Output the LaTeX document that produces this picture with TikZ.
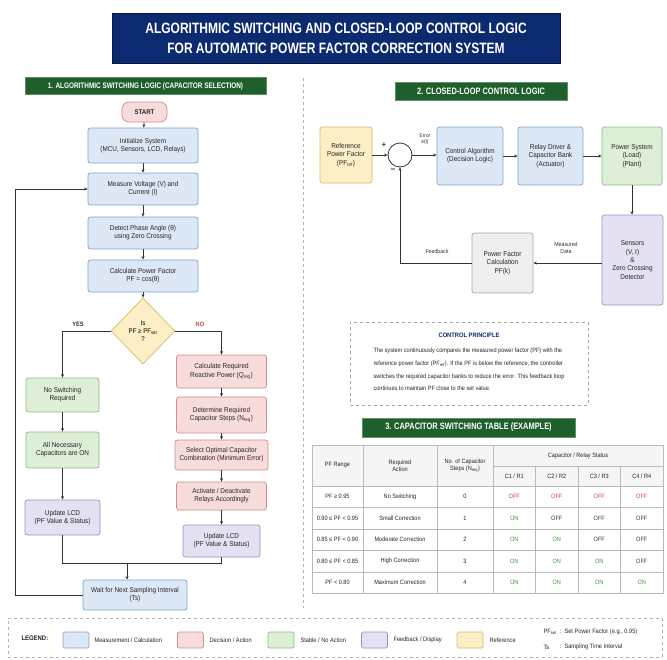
\documentclass[tikz,border=0pt]{standalone}
\usepackage{fontspec}
\setmainfont{Liberation Sans}[FakeStretch=0.9]
\newfontfamily\condfont{Liberation Sans}[FakeStretch=0.8]
\usetikzlibrary{shapes.geometric,arrows.meta}
\newcommand\fsz[2]{\fontsize{#1}{#2}\selectfont}
\definecolor{bfill}{HTML}{DCE8F6}\definecolor{bline}{HTML}{7FA3CF}
\definecolor{pfill}{HTML}{F8DCDC}\definecolor{pline}{HTML}{D38C8C}
\definecolor{gfill}{HTML}{DDEFD6}\definecolor{gline}{HTML}{8DBB85}
\definecolor{vfill}{HTML}{E5E0F2}\definecolor{vline}{HTML}{9C8FC6}
\definecolor{yfill}{HTML}{FCEFC6}\definecolor{yline}{HTML}{D9B96A}
\definecolor{kfill}{HTML}{EFEFEF}\definecolor{kline}{HTML}{A8A8A8}
\definecolor{titleblue}{HTML}{0B2A6F}
\definecolor{hdrgreen}{HTML}{1F5F2B}
\definecolor{linec}{HTML}{333333}
\definecolor{ongreen}{HTML}{3A9A3A}
\definecolor{offred}{HTML}{D04040}
\definecolor{offgray}{HTML}{333333}
\definecolor{tline}{HTML}{BBBBBB}
\newcommand\onx{\textcolor{ongreen}{ON}}
\newcommand\offr{\textcolor{offred}{OFF}}
\newcommand\offk{\textcolor{offgray}{OFF}}
\begin{document}
\begin{tikzpicture}[x=1pt,y=-1pt,
  box/.style={rounded corners=2.5pt, line width=0.7pt, align=center, inner sep=1pt, font=\fsz{7.1}{8.3}, text=black!85},
  bbox/.style={box, draw=bline, fill=bfill},
  pbox/.style={box, draw=pline, fill=pfill},
  gbox/.style={box, draw=gline, fill=gfill},
  vbox/.style={box, draw=vline, fill=vfill},
  ybox/.style={box, draw=yline, fill=yfill},
  kbox/.style={box, draw=kline, fill=kfill},
  hdr/.style={fill=hdrgreen, draw=hdrgreen!70!white, line width=0.6pt, text=white, inner sep=1pt, font=\condfont\bfseries\fsz{9.3}{11}},
  arr/.style={draw=linec, line width=0.8pt, -{Stealth[length=3.5pt,width=3pt]}},
  ln/.style={draw=linec, line width=0.8pt},
  lbl/.style={font=\fsz{5.8}{7}, align=center, text=black!80},
  cell/.style={font=\fsz{6.2}{7.4}, align=center, text=black!85},
  legtxt/.style={font=\fsz{6.3}{7.5}, anchor=west, text=black!85},
  sw/.style={rounded corners=1.5pt, line width=0.7pt, minimum width=26pt, minimum height=16pt, inner sep=0pt}
]
\useasboundingbox (0,0) rectangle (667,659);
\fill[white] (0,0) rectangle (667,659);

% Title
\node[fill=titleblue, draw=titleblue!60!black, minimum width=448pt, minimum height=50pt, text=white, align=center, font=\condfont\bfseries\fsz{15}{20}] (title) at (336,38) {ALGORITHMIC SWITCHING AND CLOSED-LOOP CONTROL LOGIC\\FOR AUTOMATIC POWER FACTOR CORRECTION SYSTEM};

% divider
\coordinate (dvt) at (303,78);
\coordinate (dvb) at (303,608);
\draw[gray!60, dashed, line width=0.6pt] (dvt) -- (dvb);

% Section headers
\node[hdr, minimum width=241pt, minimum height=17pt, font=\condfont\bfseries\fsz{8}{9}] (h1) at (145.5,86) {1. ALGORITHMIC SWITCHING LOGIC (CAPACITOR SELECTION)};
\node[hdr, minimum width=172pt, minimum height=18pt] (h2) at (481,91) {2. CLOSED-LOOP CONTROL LOGIC};
\node[hdr, minimum width=213pt, minimum height=19pt] (h3) at (468.5,427.5) {3. CAPACITOR SWITCHING TABLE (EXAMPLE)};

% ---------- Left flowchart ----------
\node[pbox, rounded corners=7pt, minimum width=45pt, minimum height=20pt, font=\bfseries\fsz{6.8}{8}] (start) at (144.5,112) {START};
\node[bbox, minimum width=110pt, minimum height=35pt] (init) at (143,145.5) {Initialize System\\(MCU, Sensors, LCD, Relays)};
\node[bbox, minimum width=110pt, minimum height=32pt] (meas) at (143,189) {Measure Voltage (V) and\\Current (I)};
\node[bbox, minimum width=110pt, minimum height=32pt] (detect) at (143,233) {Detect Phase Angle (θ)\\using Zero Crossing};
\node[bbox, minimum width=110pt, minimum height=32pt] (calc) at (143,276) {Calculate Power Factor\\PF = cos(θ)};
\node[diamond, draw=yline, fill=yfill, line width=0.7pt, minimum width=64pt, minimum height=66pt, inner sep=0pt, align=center, font=\fsz{6.8}{8}] (dia) at (143,331) {Is\\PF ≥ PF\textsubscript{set}\\?};

\node[gbox, minimum width=73pt, minimum height=34pt] (nosw) at (62.5,395) {No Switching\\Required};
\node[gbox, minimum width=73pt, minimum height=36pt] (allon) at (62.5,450) {All Necessary\\Capacitors are ON};
\node[vbox, minimum width=75pt, minimum height=35pt] (lcdl) at (62.5,517.5) {Update LCD\\(PF Value \& Status)};

\node[pbox, minimum width=90pt, minimum height=33pt] (qreq) at (221.5,371.5) {Calculate Required\\Reactive Power (Q\textsubscript{req})};
\node[pbox, minimum width=90pt, minimum height=36pt] (nreq) at (221.5,415) {Determine Required\\Capacitor Steps (N\textsubscript{req})};
\node[pbox, minimum width=93pt, minimum height=30pt] (sel) at (221.5,455) {Select Optimal Capacitor\\Combination (Minimum Error)};
\node[pbox, minimum width=90pt, minimum height=28pt] (act) at (221.5,496) {Activate / Deactivate\\Relays Accordingly};
\node[vbox, minimum width=77pt, minimum height=32pt] (lcdr) at (221.5,541) {Update LCD\\(PF Value \& Status)};
\node[bbox, minimum width=104pt, minimum height=30pt] (wait) at (135,595) {Wait for Next Sampling Interval\\(Ts)};

\draw[arr] (start) -- (init);
\draw[arr] (init) -- (meas);
\draw[arr] (meas) -- (detect);
\draw[arr] (detect) -- (calc);
\draw[arr] (calc) -- (dia);
\draw[arr] (dia.west) -| (nosw.north);
\draw[arr] (dia.east) -| (qreq.north);
\node[font=\bfseries\fsz{6.3}{7}, text=black!80] (yes) at (78,324) {YES};
\node[font=\bfseries\fsz{6.3}{7}, text=offred] (no) at (200,324) {NO};
\draw[arr] (nosw) -- (allon);
\draw[arr] (allon) -- (lcdl);
\draw[arr] (qreq) -- (nreq);
\draw[arr] (nreq) -- (sel);
\draw[arr] (sel) -- (act);
\draw[arr] (act) -- (lcdr);
\coordinate (mj) at (127,563);
\draw[ln] (lcdl.south) -- (lcdl.south |- mj) -- (lcdr.south |- mj) -- (lcdr.south);
\draw[arr] (mj) -- (mj |- wait.north);
\coordinate (lp) at (15,0);
\draw[arr] (wait.west) -- (wait.west -| lp) |- (meas.west);

% ---------- Right control loop ----------
\node[ybox, minimum width=52pt, minimum height=56pt] (ref) at (346,155) {Reference\\Power Factor\\(PF\textsubscript{ref})};
\node[circle, draw=linec, fill=white, line width=0.8pt, minimum size=24pt, inner sep=0pt] (sum) at (400,155) {};
\node[bbox, minimum width=66pt, minimum height=58pt] (ctrl) at (470,156) {Control Algorithm\\(Decision Logic)};
\node[bbox, minimum width=65pt, minimum height=58pt] (relay) at (550.5,156) {Relay Driver \&\\Capacitor Bank\\(Actuator)};
\node[gbox, minimum width=60pt, minimum height=58pt] (psys) at (632,156) {Power System\\(Load)\\(Plant)};
\node[vbox, minimum width=61pt, minimum height=90pt] (sens) at (632.5,260) {Sensors\\(V, I)\\\&\\Zero Crossing\\Detector};
\node[kbox, minimum width=61pt, minimum height=60pt] (pfc) at (502.5,263) {Power Factor\\Calculation\\PF(k)};

\draw[arr] (ref.east |- sum) -- (sum.west);
\draw[arr] (sum.east) -- (ctrl.west |- sum);
\draw[arr] (ctrl) -- (relay);
\draw[arr] (relay) -- (psys);
\draw[arr] (psys.south) -- (psys.south |- sens.north);
\draw[arr] (sens.west |- pfc.east) -- (pfc.east);
\draw[arr] (pfc.west) -| (sum.south);
\node[font=\bfseries\fsz{8}{8}, text=linec] (plus) at (384,145) {+};
\node[font=\bfseries\fsz{9}{9}, text=linec] (minus) at (393,171) {−};
\node[lbl, font=\fsz{5.3}{6.2}] (err) at (425,139) {Error\\e(t)};
\node[lbl] (mdata) at (566,248) {Measured\\Data};
\node[lbl] (fb) at (437,251) {Feedback};

% Control principle
\node[draw=gray!70, dashed, line width=0.6pt, minimum width=238pt, minimum height=83pt] (cp) at (469,363.5) {};
\node[font=\bfseries\fsz{6.4}{7.5}, text=titleblue] (cpt) at (469,335) {CONTROL PRINCIPLE};
\node[font=\fsz{6.2}{12.6}, align=left, text=black!85] (cpb) at (469,369.5) {The system continuously compares the measured power factor (PF) with the\\reference power factor (PF\textsubscript{ref}). If the PF is below the reference, the controller\\switches the required capacitor banks to reduce the error. This feedback loop\\continues to maintain PF close to the set value.};

% ---------- Table ----------
\fill[black!4] (312,445) rectangle (663,486);
\draw[tline, line width=0.6pt] (312,445) rectangle (663,593.5);
\draw[tline, line width=0.6pt] (493,466) -- (663,466);
\foreach \yy in {486,507.5,529,550.5,572} \draw[tline, line width=0.6pt] (312,\yy) -- (663,\yy);
\foreach \xx in {363,437,493} \draw[tline, line width=0.6pt] (\xx,445) -- (\xx,593.5);
\foreach \xx in {535.5,578,620.5} \draw[tline, line width=0.6pt] (\xx,466) -- (\xx,593.5);
\node[cell] (th1) at (337.5,465.5) {PF Range};
\node[cell] (th2) at (400,465.5) {Required\\Action};
\node[cell] (th3) at (465,465.5) {No. of Capacitor\\Steps (N\textsubscript{req})};
\node[cell] (th4) at (578,455.5) {Capacitor / Relay Status};
\node[cell] (th5) at (514.25,476) {C1 / R1};
\node[cell] (th6) at (556.75,476) {C2 / R2};
\node[cell] (th7) at (599.25,476) {C3 / R3};
\node[cell] (th8) at (641.75,476) {C4 / R4};
\foreach \ra/\rb/\rc/\rd/\re/\rf/\rg [count=\i] in {
  PF ≥ 0.95/No Switching/0/\offr/\offr/\offr/\offr,
  0.90 ≤ PF < 0.95/Small Correction/1/\onx/\offk/\offk/\offk,
  0.85 ≤ PF < 0.90/Moderate Correction/2/\onx/\onx/\offk/\offk,
  0.80 ≤ PF < 0.85/High Correction/3/\onx/\onx/\onx/\offk,
  PF < 0.80/Maximum Correction/4/\onx/\onx/\onx/\onx}{
  \pgfmathsetmacro\yy{486+(\i-0.5)*21.5}
  \node[cell] (r\i a) at (337.5,\yy) {\ra};
  \node[cell] (r\i b) at (400,\yy) {\rb};
  \node[cell] (r\i c) at (465,\yy) {\rc};
  \node[cell] (r\i d) at (514.25,\yy) {\rd};
  \node[cell] (r\i e) at (556.75,\yy) {\re};
  \node[cell] (r\i f) at (599.25,\yy) {\rf};
  \node[cell] (r\i g) at (641.75,\yy) {\rg};
}

% ---------- Legend ----------
\node[draw=gray!60, dashed, line width=0.6pt, minimum width=654pt, minimum height=39pt] (leg) at (335,637.5) {};
\node[font=\bfseries\fsz{6.6}{8}, text=black!85, anchor=west] (legt) at (18,638) {LEGEND:};
\node[sw, draw=bline, fill=bfill] (sw1) at (76,640) {};
\node[legtxt] (lt1) at (91,640) {Measurement / Calculation};
\node[sw, draw=pline, fill=pfill] (sw2) at (190.5,640) {};
\node[legtxt] (lt2) at (206,640) {Decision / Action};
\node[sw, draw=gline, fill=gfill] (sw3) at (281,640) {};
\node[legtxt] (lt3) at (297,640) {Stable / No Action};
\node[sw, draw=vline, fill=vfill] (sw4) at (374.5,640) {};
\node[legtxt] (lt4) at (390,640) {Feedback / Display};
\node[sw, draw=yline, fill=yfill] (sw5) at (470,640) {};
\node[legtxt] (lt5) at (486,640) {Reference};
\node[legtxt] (lk1) at (540,632) {PF\textsubscript{set}};
\node[legtxt] (lc1) at (556,632) {:};
\node[legtxt] (lk2) at (561,632) {Set Power Factor (e.g., 0.95)};
\node[legtxt] (lk3) at (540,647) {Ts};
\node[legtxt] (lc2) at (556,647) {:};
\node[legtxt] (lk4) at (561,647) {Sampling Time Interval};
\end{tikzpicture}
\end{document}
